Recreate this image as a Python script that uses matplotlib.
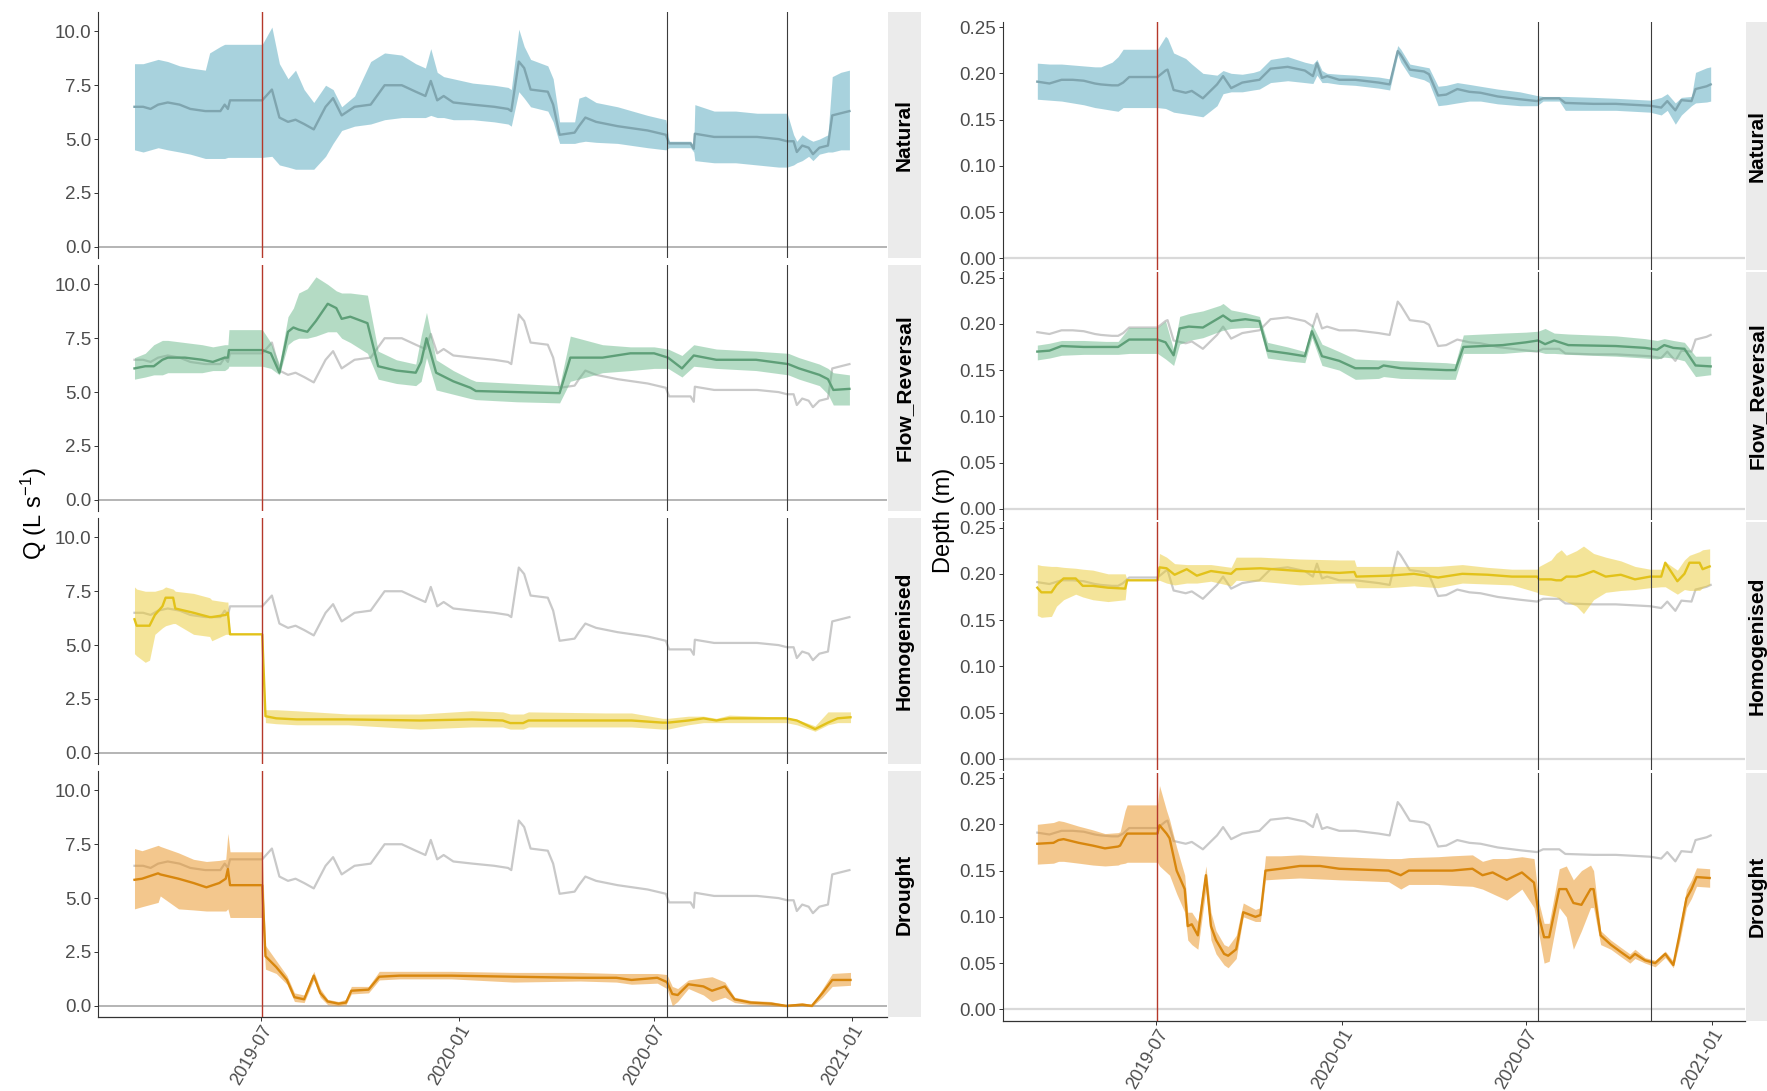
import numpy as np
import matplotlib
matplotlib.use('Agg')
import matplotlib.pyplot as plt

plt.rcParams['font.family'] = ['Liberation Sans', 'DejaVu Sans']
plt.rcParams['mathtext.default'] = 'regular'

# day 0 of every series is the first sampling date
start = np.datetime64('2019-03-05')
red_day = 119
black_days = [496, 608]

scenarios = ['Natural', 'Flow_Reversal', 'Homogenised', 'Drought']
tick_dates = ['2019-07-01', '2020-01-01', '2020-07-01', '2021-01-01']
tick_labels = ['2019-07', '2020-01', '2020-07', '2021-01']
q_ticks = [0, 2.5, 5, 7.5, 10]
q_labels = ['0.0', '2.5', '5.0', '7.5', '10.0']
d_ticks = [0, 0.05, 0.10, 0.15, 0.20, 0.25]
d_labels = ['0.00', '0.05', '0.10', '0.15', '0.20', '0.25']

# ---- discharge Q (L/s) ----
nat_q_days = [0, 8, 15, 22, 31, 42, 52, 66, 70, 80, 84, 87, 89, 119, 128, 135, 143, 150, 158, 167,
              178, 185, 193, 205, 220, 233, 249, 262, 271, 276, 282, 288, 297, 315, 335, 348, 351, 358, 363, 369,
              385, 390, 396, 410, 414, 420, 430, 450, 478, 495, 498, 518, 521, 522, 540, 560, 580, 600, 608, 614,
              617, 622, 628, 632, 638, 646, 650, 658, 666]
nat_q_mean = [6.5, 6.5, 6.4, 6.6, 6.7, 6.6, 6.4, 6.3, 6.3, 6.3, 6.6, 6.4, 6.8, 6.8, 7.3, 6.0, 5.8, 5.9, 5.7, 5.45,
              6.5, 6.9, 6.1, 6.5, 6.6, 7.5, 7.5, 7.2, 7.0, 7.7, 6.8, 7.0, 6.7, 6.6, 6.5, 6.4, 6.3, 8.6, 8.3, 7.3,
              7.2, 6.6, 5.2, 5.3, 5.6, 6.0, 5.8, 5.6, 5.4, 5.2, 4.8, 4.8, 4.55, 5.25, 5.1, 5.1, 5.1, 5.0, 4.9, 4.9,
              4.4, 4.7, 4.6, 4.3, 4.6, 4.7, 6.1, 6.2, 6.3]
nat_q_lo = [4.5, 4.4, 4.5, 4.6, 4.5, 4.4, 4.3, 4.1, 4.1, 4.1, 4.1, 4.15, 4.15, 4.15, 4.2, 3.8, 3.7, 3.6, 3.6, 3.6,
            4.2, 4.8, 5.4, 5.6, 5.7, 5.9, 6.0, 6.0, 6.0, 6.1, 6.0, 6.0, 5.9, 5.9, 5.8, 5.7, 5.6, 7.2, 6.9, 6.5,
            6.3, 5.8, 4.8, 4.8, 4.85, 4.9, 4.85, 4.8, 4.6, 4.5, 4.6, 4.6, 4.4, 4.0, 3.9, 3.9, 3.8, 3.7, 3.7, 3.8,
            3.9, 4.0, 4.2, 4.0, 4.3, 4.4, 4.4, 4.5, 4.5]
nat_q_hi = [8.5, 8.5, 8.6, 8.7, 8.6, 8.4, 8.3, 8.2, 9.0, 9.3, 9.4, 9.4, 9.4, 9.4, 10.2, 8.5, 7.8, 8.2, 7.3, 6.7,
            7.5, 7.3, 6.5, 7.0, 8.6, 9.0, 8.9, 8.5, 8.3, 9.2, 8.1, 7.9, 7.8, 7.6, 7.5, 7.4, 7.3, 10.1, 9.3, 8.7,
            8.4, 7.8, 5.8, 5.8, 6.9, 7.0, 6.7, 6.5, 6.1, 5.9, 4.9, 4.9, 4.7, 6.6, 6.3, 6.3, 6.2, 6.2, 6.2, 5.2,
            4.9, 5.2, 5.0, 4.9, 5.0, 5.2, 7.9, 8.1, 8.2]

fr_q_days = [0, 10, 18, 26, 31, 47, 63, 73, 84, 87, 88, 119, 127, 135, 143, 148, 153, 161, 169, 180,
             188, 193, 201, 217, 227, 244, 262, 267, 272, 281, 297, 313, 318, 356, 396, 406, 436, 462, 484, 497,
             510, 521, 542, 579, 609, 619, 638, 646, 651, 666]
fr_q_mean = [6.1, 6.2, 6.2, 6.5, 6.6, 6.6, 6.5, 6.4, 6.6, 6.6, 6.95, 6.95, 6.8, 5.9, 7.8, 8.0, 7.9, 7.8, 8.3, 9.1,
             8.9, 8.4, 8.5, 8.2, 6.2, 6.0, 5.9, 6.4, 7.5, 5.9, 5.5, 5.2, 5.05, 5.0, 4.95, 6.6, 6.6, 6.8, 6.8, 6.6,
             6.1, 6.7, 6.5, 6.5, 6.3, 6.1, 5.8, 5.6, 5.1, 5.15]
fr_q_lo = [5.6, 5.7, 5.8, 5.8, 5.9, 5.9, 5.9, 6.0, 6.0, 6.1, 6.2, 6.2, 6.1, 5.8, 7.2, 7.4, 7.5, 7.5, 7.6, 7.8,
           7.8, 7.5, 7.3, 6.8, 5.6, 5.4, 5.3, 5.5, 6.6, 5.1, 4.9, 4.7, 4.65, 4.55, 4.5, 5.5, 5.9, 6.0, 6.1, 6.1,
           5.7, 6.2, 6.1, 6.0, 5.8, 5.6, 5.3, 4.9, 4.4, 4.4]
fr_q_hi = [6.6, 6.8, 7.2, 7.4, 7.4, 7.3, 7.2, 7.1, 7.2, 7.2, 7.9, 7.9, 7.3, 6.3, 8.5, 8.9, 9.6, 9.8, 10.35, 10.0,
           9.7, 9.6, 9.6, 9.5, 6.9, 6.5, 6.3, 7.6, 8.7, 6.5, 6.0, 5.6, 5.5, 5.4, 5.3, 7.6, 7.2, 7.1, 7.1, 7.0,
           6.7, 7.2, 7.0, 6.9, 6.8, 6.6, 6.3, 6.1, 5.9, 5.8]

hom_q_days = [0, 2, 10, 14, 19, 26, 29, 36, 38, 55, 70, 72, 85, 87, 89, 119, 122, 132, 151, 199,
              266, 314, 343, 350, 362, 367, 439, 463, 492, 497, 516, 530, 542, 554, 607, 617, 634, 646, 655, 667]
hom_q_mean = [6.2, 5.9, 5.9, 5.9, 6.4, 6.8, 7.2, 7.2, 6.7, 6.5, 6.3, 6.3, 6.4, 6.5, 5.5, 5.5, 1.7, 1.6, 1.55, 1.55,
              1.5, 1.55, 1.5, 1.38, 1.38, 1.5, 1.5, 1.5, 1.4, 1.4, 1.5, 1.6, 1.5, 1.6, 1.6, 1.5, 1.1, 1.4, 1.6, 1.65]
hom_q_lo = [4.6, 4.5, 4.2, 4.3, 5.5, 5.8, 5.9, 6.0, 6.0, 5.5, 5.4, 5.2, 5.5, 5.5, 5.5, 5.5, 1.4, 1.35, 1.3, 1.3,
            1.1, 1.2, 1.2, 1.1, 1.1, 1.2, 1.2, 1.2, 1.1, 1.1, 1.3, 1.4, 1.4, 1.4, 1.4, 1.3, 1.0, 1.3, 1.4, 1.4]
hom_q_hi = [7.7, 7.6, 7.5, 7.5, 7.5, 7.6, 7.7, 7.6, 7.5, 7.4, 7.2, 7.1, 7.0, 7.0, 5.5, 5.5, 2.0, 2.0, 1.95, 1.8,
            1.8, 1.95, 1.9, 1.8, 1.8, 1.9, 1.85, 1.85, 1.6, 1.6, 1.7, 1.7, 1.6, 1.75, 1.65, 1.55, 1.25, 1.9, 1.9, 1.9]

dr_q_days = [0, 7, 22, 24, 41, 55, 67, 79, 85, 87, 89, 119, 122, 132, 142, 149, 158, 167, 173, 180,
             190, 197, 202, 218, 228, 247, 295, 353, 415, 449, 463, 487, 496, 501, 506, 516, 530, 538, 550, 559,
             574, 593, 607, 622, 631, 641, 650, 667]
dr_q_mean = [5.85, 5.9, 6.15, 6.1, 5.9, 5.7, 5.5, 5.7, 5.9, 6.35, 5.6, 5.6, 2.3, 1.8, 1.2, 0.4, 0.3, 1.4, 0.6, 0.2,
             0.1, 0.15, 0.7, 0.75, 1.35, 1.4, 1.4, 1.35, 1.3, 1.3, 1.2, 1.3, 1.1, 0.55, 0.5, 1.0, 0.9, 0.7, 0.9, 0.3,
             0.15, 0.1, 0.0, 0.05, 0.0, 0.6, 1.2, 1.2]
dr_q_lo = [4.5, 4.6, 4.8, 5.1, 4.5, 4.45, 4.4, 4.4, 4.4, 4.5, 4.1, 4.1, 1.7, 1.5, 1.0, 0.2, 0.15, 1.2, 0.4, 0.05,
           0.0, 0.05, 0.55, 0.6, 1.2, 1.25, 1.25, 1.1, 1.15, 1.1, 1.0, 1.05, 0.8, 0.0, 0.2, 0.8, 0.5, 0.2, 0.4, 0.15,
           0.05, 0.0, -0.05, 0.0, -0.05, 0.4, 0.9, 0.95]
dr_q_hi = [7.3, 7.2, 7.45, 7.4, 7.1, 6.8, 6.7, 6.75, 6.8, 8.0, 7.15, 7.15, 2.8, 2.1, 1.4, 0.6, 0.5, 1.6, 0.8, 0.3,
           0.2, 0.3, 0.9, 0.9, 1.6, 1.6, 1.6, 1.55, 1.55, 1.5, 1.5, 1.5, 1.45, 0.9, 0.8, 1.2, 1.3, 1.35, 1.1, 0.4,
           0.25, 0.2, 0.05, 0.15, 0.05, 0.8, 1.5, 1.55]

# ---- depth (m) ----
nat_d_days = [0, 12, 24, 35, 46, 57, 63, 74, 80, 85, 91, 119, 127, 129, 135, 147, 153, 164, 178, 184,
              192, 203, 214, 220, 231, 248, 265, 273, 277, 282, 287, 299, 315, 338, 349, 357, 360, 369, 383, 388,
              397, 405, 416, 428, 439, 456, 478, 495, 501, 517, 523, 551, 573, 590, 607, 618, 624, 632, 638, 648,
              652, 663, 667]
nat_d_mean = [0.191, 0.189, 0.193, 0.193, 0.192, 0.189, 0.188, 0.187, 0.187, 0.190,
              0.196, 0.196, 0.203, 0.204, 0.182, 0.179, 0.181, 0.173, 0.188, 0.197,
              0.184, 0.190, 0.192, 0.193, 0.205, 0.207, 0.203, 0.197, 0.211, 0.195,
              0.197, 0.193, 0.193, 0.190, 0.188, 0.224, 0.220, 0.204, 0.202, 0.199,
              0.176, 0.177, 0.183, 0.180, 0.179, 0.175, 0.172, 0.170, 0.173, 0.173,
              0.168, 0.167, 0.167, 0.166, 0.165, 0.163, 0.170, 0.160, 0.171, 0.170,
              0.183, 0.186, 0.188]
nat_d_lo = [0.172, 0.171, 0.170, 0.168, 0.166, 0.163, 0.162, 0.160, 0.159, 0.163,
            0.163, 0.163, 0.162, 0.161, 0.158, 0.156, 0.155, 0.153, 0.165, 0.178,
            0.180, 0.180, 0.182, 0.183, 0.190, 0.192, 0.190, 0.189, 0.198, 0.190,
            0.190, 0.188, 0.187, 0.184, 0.182, 0.220, 0.212, 0.197, 0.193, 0.190,
            0.165, 0.166, 0.168, 0.170, 0.170, 0.167, 0.165, 0.165, 0.170, 0.170,
            0.160, 0.160, 0.160, 0.159, 0.158, 0.155, 0.160, 0.145, 0.155, 0.165,
            0.168, 0.169, 0.170]
nat_d_hi = [0.211, 0.210, 0.210, 0.209, 0.208, 0.207, 0.207, 0.212, 0.218, 0.226,
            0.226, 0.226, 0.240, 0.238, 0.222, 0.216, 0.210, 0.200, 0.198, 0.203,
            0.200, 0.199, 0.201, 0.203, 0.215, 0.218, 0.212, 0.210, 0.215, 0.203,
            0.200, 0.199, 0.198, 0.196, 0.194, 0.230, 0.226, 0.210, 0.207, 0.206,
            0.186, 0.187, 0.190, 0.188, 0.186, 0.183, 0.180, 0.176, 0.175, 0.175,
            0.175, 0.174, 0.173, 0.172, 0.171, 0.174, 0.178, 0.168, 0.174, 0.175,
            0.201, 0.206, 0.207]

fr_d_days = [0, 12, 24, 46, 68, 80, 91, 119, 127, 135, 141, 150, 164, 181, 184, 192, 206, 220, 228, 248,
             265, 272, 282, 299, 315, 338, 343, 360, 405, 414, 422, 461, 484, 496, 503, 512, 526, 573, 602, 614,
             621, 630, 641, 652, 667]
fr_d_mean = [0.170, 0.171, 0.176, 0.175, 0.175, 0.175, 0.183, 0.183, 0.180, 0.166,
             0.195, 0.197, 0.196, 0.207, 0.209, 0.203, 0.205, 0.203, 0.171, 0.168,
             0.165, 0.192, 0.165, 0.160, 0.152, 0.152, 0.155, 0.152, 0.150, 0.150,
             0.175, 0.177, 0.180, 0.182, 0.178, 0.182, 0.177, 0.176, 0.174, 0.172,
             0.177, 0.174, 0.173, 0.155, 0.154]
fr_d_lo = [0.161, 0.163, 0.166, 0.167, 0.167, 0.167, 0.168, 0.168, 0.162, 0.155,
           0.178, 0.182, 0.185, 0.192, 0.193, 0.195, 0.196, 0.196, 0.163, 0.160,
           0.158, 0.185, 0.155, 0.150, 0.140, 0.141, 0.143, 0.141, 0.140, 0.140,
           0.168, 0.168, 0.170, 0.170, 0.168, 0.168, 0.167, 0.165, 0.163, 0.162,
           0.164, 0.163, 0.160, 0.143, 0.145]
fr_d_hi = [0.177, 0.179, 0.182, 0.182, 0.181, 0.181, 0.196, 0.196, 0.203, 0.172,
           0.208, 0.211, 0.214, 0.220, 0.222, 0.215, 0.212, 0.208, 0.180, 0.175,
           0.170, 0.200, 0.178, 0.170, 0.162, 0.161, 0.161, 0.160, 0.158, 0.157,
           0.188, 0.190, 0.191, 0.192, 0.195, 0.190, 0.189, 0.187, 0.184, 0.182,
           0.184, 0.182, 0.180, 0.165, 0.165]

hom_d_days = [0, 4, 14, 19, 26, 38, 45, 55, 70, 87, 89, 119, 121, 128, 136, 148, 158, 172, 192, 197,
              221, 260, 299, 314, 316, 348, 373, 397, 421, 446, 470, 495, 497, 509, 514, 519, 524, 534, 541, 551,
              563, 578, 592, 607, 618, 622, 634, 641, 646, 656, 659, 666]
hom_d_mean = [0.185, 0.180, 0.180, 0.188, 0.195, 0.195, 0.187, 0.187, 0.185, 0.184,
              0.193, 0.193, 0.207, 0.206, 0.199, 0.205, 0.198, 0.203, 0.200, 0.205,
              0.206, 0.203, 0.201, 0.202, 0.197, 0.198, 0.200, 0.196, 0.200, 0.199,
              0.197, 0.197, 0.194, 0.194, 0.193, 0.193, 0.197, 0.197, 0.199, 0.203,
              0.197, 0.199, 0.194, 0.197, 0.197, 0.212, 0.192, 0.200, 0.212, 0.212,
              0.205, 0.208]
hom_d_lo = [0.155, 0.153, 0.154, 0.165, 0.172, 0.178, 0.175, 0.172, 0.170, 0.172,
            0.193, 0.193, 0.193, 0.190, 0.188, 0.190, 0.190, 0.192, 0.187, 0.193,
            0.192, 0.188, 0.190, 0.190, 0.185, 0.185, 0.187, 0.185, 0.190, 0.189,
            0.188, 0.180, 0.178, 0.176, 0.175, 0.172, 0.170, 0.165, 0.157, 0.172,
            0.180, 0.182, 0.183, 0.185, 0.186, 0.186, 0.178, 0.183, 0.182, 0.182,
            0.185, 0.188]
hom_d_hi = [0.210, 0.209, 0.208, 0.208, 0.207, 0.206, 0.205, 0.204, 0.200, 0.200,
            0.193, 0.193, 0.222, 0.218, 0.211, 0.210, 0.210, 0.210, 0.207, 0.218,
            0.218, 0.216, 0.215, 0.215, 0.208, 0.208, 0.208, 0.208, 0.210, 0.207,
            0.205, 0.205, 0.208, 0.215, 0.222, 0.226, 0.220, 0.225, 0.230, 0.222,
            0.218, 0.214, 0.208, 0.205, 0.205, 0.213, 0.204, 0.215, 0.220, 0.224,
            0.226, 0.227]

dr_d_days = [0, 16, 21, 26, 41, 55, 67, 80, 82, 87, 89, 119, 121, 128, 131, 138, 146, 149, 153, 159,
             167, 172, 177, 185, 189, 197, 204, 216, 221, 226, 241, 260, 280, 299, 324, 348, 360, 368, 397, 411,
             431, 441, 451, 465, 480, 492, 497, 502, 507, 517, 524, 531, 539, 548, 551, 558, 568, 578, 587, 592,
             602, 612, 622, 630, 636, 643, 648, 653, 666]
dr_d_mean = [0.179, 0.180, 0.183, 0.184, 0.180, 0.177, 0.174, 0.176, 0.177, 0.187,
             0.190, 0.190, 0.199, 0.190, 0.185, 0.150, 0.130, 0.090, 0.092, 0.080,
             0.145, 0.090, 0.075, 0.060, 0.058, 0.065, 0.105, 0.100, 0.102, 0.150,
             0.152, 0.155, 0.155, 0.152, 0.151, 0.150, 0.145, 0.150, 0.150, 0.150,
             0.152, 0.145, 0.148, 0.140, 0.148, 0.137, 0.100, 0.078, 0.078, 0.130,
             0.130, 0.115, 0.113, 0.130, 0.130, 0.080, 0.070, 0.062, 0.055, 0.060,
             0.053, 0.050, 0.060, 0.048, 0.080, 0.120, 0.130, 0.143, 0.142]
dr_d_lo = [0.157, 0.158, 0.160, 0.160, 0.158, 0.156, 0.155, 0.156, 0.157, 0.158,
           0.159, 0.159, 0.155, 0.148, 0.145, 0.125, 0.105, 0.075, 0.070, 0.065,
           0.130, 0.075, 0.060, 0.048, 0.045, 0.055, 0.100, 0.095, 0.095, 0.140,
           0.141, 0.142, 0.141, 0.140, 0.139, 0.138, 0.130, 0.135, 0.135, 0.134,
           0.133, 0.130, 0.125, 0.118, 0.130, 0.110, 0.080, 0.050, 0.052, 0.110,
           0.100, 0.065, 0.085, 0.110, 0.110, 0.070, 0.065, 0.057, 0.050, 0.055,
           0.050, 0.046, 0.056, 0.045, 0.072, 0.110, 0.120, 0.133, 0.132]
dr_d_hi = [0.200, 0.202, 0.204, 0.203, 0.198, 0.194, 0.190, 0.191, 0.192, 0.215,
           0.221, 0.221, 0.242, 0.215, 0.205, 0.175, 0.145, 0.105, 0.105, 0.095,
           0.155, 0.105, 0.085, 0.070, 0.068, 0.080, 0.115, 0.108, 0.110, 0.166,
           0.166, 0.167, 0.166, 0.165, 0.164, 0.163, 0.163, 0.164, 0.165, 0.166,
           0.167, 0.160, 0.163, 0.163, 0.165, 0.163, 0.115, 0.093, 0.093, 0.152,
           0.155, 0.140, 0.150, 0.156, 0.150, 0.085, 0.075, 0.067, 0.060, 0.065,
           0.056, 0.053, 0.063, 0.052, 0.088, 0.130, 0.140, 0.153, 0.152]

q_series = [(nat_q_days, nat_q_mean, nat_q_lo, nat_q_hi),
            (fr_q_days, fr_q_mean, fr_q_lo, fr_q_hi),
            (hom_q_days, hom_q_mean, hom_q_lo, hom_q_hi),
            (dr_q_days, dr_q_mean, dr_q_lo, dr_q_hi)]
d_series = [(nat_d_days, nat_d_mean, nat_d_lo, nat_d_hi),
            (fr_d_days, fr_d_mean, fr_d_lo, fr_d_hi),
            (hom_d_days, hom_d_mean, hom_d_lo, hom_d_hi),
            (dr_d_days, dr_d_mean, dr_d_lo, dr_d_hi)]

# ribbon colours (drawn at alpha 0.5) and line colours
fill_cols = ['#53A7BD', '#6BB98B', '#EBCB35', '#E9911D']
line_cols = ['#7FA5AF', '#5E9F78', '#E2C21A', '#D8870E']
ref_col = '#C9C9C9'


def to_dates(days):
    return start + np.array(days).astype('timedelta64[D]')


W, H = 1767, 1091
fig = plt.figure(figsize=(W / 100, H / 100), dpi=100)


def px_box(x0, y0, w, h):
    return [x0 / W, 1 - (y0 + h) / H, w / W, h / H]


xlim = (to_dates([-34])[0], to_dates([701])[0])

columns = [
    dict(series=q_series, x0=98, x1=887, tops=[12, 265, 518, 771], h=246, ylim=(-0.52, 10.9),
         ticks=q_ticks, labels=q_labels, hcol='#A8A8A8', hlw=1.2, strip_x=0.5),
    dict(series=d_series, x0=1003, x1=1745, tops=[21.5, 272, 522, 772.5], h=248, ylim=(-0.012, 0.256),
         ticks=d_ticks, labels=d_labels, hcol='#D9D9D9', hlw=1.6, strip_x=0.35),
]

for col in columns:
    for i, name in enumerate(scenarios):
        ax = fig.add_axes(px_box(col['x0'], col['tops'][i], col['x1'] - col['x0'], col['h']))
        days, mean, lo, hi = col['series'][i]
        ref_days, ref_mean = col['series'][0][0], col['series'][0][1]

        ax.axhline(0, color=col['hcol'], lw=col['hlw'], zorder=1)
        if i > 0:
            ax.plot(to_dates(ref_days), ref_mean, color=ref_col, lw=1.6, zorder=2)
        ax.fill_between(to_dates(days), lo, hi, color=fill_cols[i], alpha=0.5, lw=0, zorder=3)
        ax.plot(to_dates(days), mean, color=line_cols[i], lw=1.7, zorder=4)

        ax.axvline(to_dates([red_day])[0], color='#B5382A', lw=1.0, zorder=5)
        for bd in black_days:
            ax.axvline(to_dates([bd])[0], color='#3C3C3C', lw=0.8, zorder=5)

        ax.set_xlim(xlim)
        ax.set_ylim(col['ylim'])
        ax.set_yticks(col['ticks'])
        ax.set_yticklabels(col['labels'])
        ax.set_xticks(np.array(tick_dates, dtype='datetime64[D]'))
        ax.tick_params(axis='y', length=3, width=0.7, color='#333333', labelsize=13.5,
                       labelcolor='#4D4D4D', pad=2)
        ax.tick_params(axis='x', length=3, width=0.7, color='#333333', pad=1)
        for s in ['top', 'right']:
            ax.spines[s].set_visible(False)
        ax.spines['left'].set_color('#333333')
        ax.spines['left'].set_linewidth(0.8)
        if i == 3:
            ax.spines['bottom'].set_color('#333333')
            ax.spines['bottom'].set_linewidth(0.9)
            ax.set_xticklabels(tick_labels, rotation=60, ha='right', va='top',
                               rotation_mode='anchor', fontsize=13, color='#4D4D4D')
        else:
            ax.spines['bottom'].set_visible(False)
            ax.tick_params(axis='x', length=0, labelbottom=False)

        # facet strip on the right (the right-hand column runs off the page edge)
        sx = fig.add_axes(px_box(col['x1'] + 1, col['tops'][i], 33, col['h']))
        sx.set_facecolor('#EBEBEB')
        sx.set_xticks([])
        sx.set_yticks([])
        for s in sx.spines.values():
            s.set_visible(False)
        sx.text(col['strip_x'], 0.5, name, rotation=90, ha='center', va='center', fontsize=15,
                fontweight='bold', color='black', transform=sx.transAxes)

fig.text(34 / W, 1 - 514 / H, 'Q (L s$^{-1}$)', rotation=90, ha='center', va='center',
         fontsize=17, color='black')
fig.text(944 / W, 1 - 520 / H, 'Depth (m)', rotation=90, ha='center', va='center',
         fontsize=17, color='black')

fig.savefig('out.png', dpi=100)
